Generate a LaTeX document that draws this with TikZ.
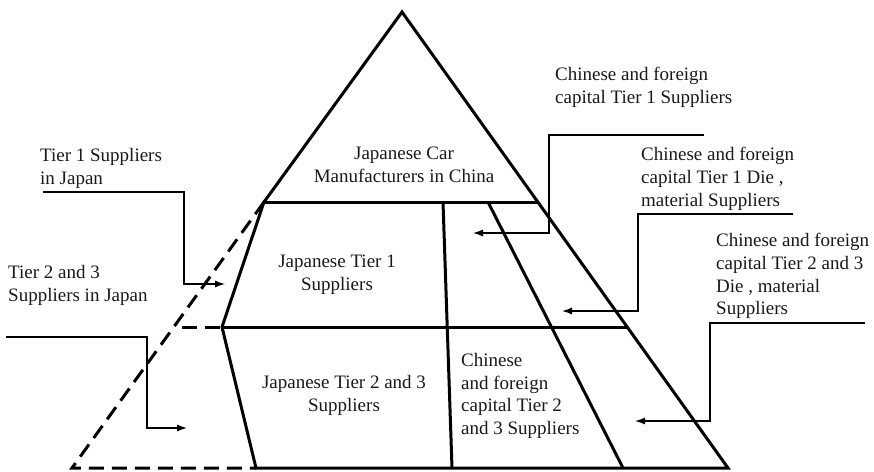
\documentclass[tikz,border=0pt]{standalone}
\usepackage{fontspec}
\setmainfont{Liberation Serif}
\usetikzlibrary{arrows.meta}
\begin{document}
\begin{tikzpicture}[x=1pt,y=-1pt,
  txt/.style={font={\fontsize{19}{22.8}\selectfont},inner sep=0pt,text=black!90},
  thickline/.style={line width=3pt,line join=miter},
  dashline/.style={line width=3pt,dash pattern=on 15pt off 8pt},
  arr/.style={line width=1.2pt,-{Latex[length=10pt,width=7pt]}}]
\useasboundingbox (0,0) rectangle (874,471);
% pyramid points
\coordinate (A) at (402,12);
\coordinate (TL) at (264,202);
\coordinate (TR) at (538,202);
\coordinate (ML) at (222,327);
\coordinate (MR) at (627,327);
\coordinate (BL) at (256,468);
\coordinate (BR) at (728,468);
\coordinate (DL) at (72,468);
\coordinate (DM) at (182,327);
\coordinate (V1t) at (443,202);
\coordinate (V1b) at (452,468);
\coordinate (D2t) at (488,202);
\coordinate (D2b) at (623,468);
% solid structure
\draw[thickline] (A) -- (BR) -- (BL) -- (ML) -- (TL) -- cycle;
\draw[thickline] (TL) -- (TR);
\draw[thickline] (ML) -- (MR);
\draw[thickline] (V1t) -- (V1b);
\draw[thickline] (D2t) -- (D2b);
% dashed extension
\draw[dashline] (TL) -- (DL) -- (BL);
\draw[dashline] (DM) -- (ML);
% text inside
\node[txt,align=center,anchor=north] (car) at (404,147) {Japanese Car\\Manufacturers in China};
\node[txt,align=center,anchor=north] (jt1) at (337,255) {Japanese Tier 1\\Suppliers};
\node[txt,align=center,anchor=north] (jt23) at (344,375) {Japanese Tier 2 and 3\\Suppliers};
\node[txt,align=left,anchor=north west] (ct23) at (461,353) {Chinese\\and foreign\\capital Tier 2\\and 3 Suppliers};
% outside labels
\node[txt,align=left,anchor=north west] (lct1) at (555,67) {Chinese and foreign\\capital Tier 1 Suppliers};
\node[txt,align=left,anchor=north west] (lcd1) at (641,147) {Chinese and foreign\\capital Tier 1 Die ,\\material Suppliers};
\node[txt,align=left,anchor=north west] (lcd23) at (716,233) {Chinese and foreign\\capital Tier 2 and 3\\Die , material\\Suppliers};
\node[txt,align=left,anchor=north west] (ljt1) at (40,148) {Tier 1 Suppliers\\in Japan};
\node[txt,align=left,anchor=north west] (ljt23) at (8,265) {Tier 2 and 3\\Suppliers in Japan};
% arrow coordinates
\coordinate (a1s) at (43,192);  \coordinate (a1k) at (184,284); \coordinate (a1e) at (225,284);
\coordinate (a2s) at (6,337);   \coordinate (a2k) at (147,428); \coordinate (a2e) at (187,428);
\coordinate (a3s) at (704,135); \coordinate (a3k) at (549,233); \coordinate (a3e) at (473,233);
\coordinate (a4s) at (793,214); \coordinate (a4k) at (638,311); \coordinate (a4e) at (562,311);
\coordinate (a5s) at (865,323); \coordinate (a5k) at (710,421); \coordinate (a5e) at (635,421);
\draw[arr] (a1s) -| (a1k) -- (a1e);
\draw[arr] (a2s) -| (a2k) -- (a2e);
\draw[arr] (a3s) -| (a3k) -- (a3e);
\draw[arr] (a4s) -| (a4k) -- (a4e);
\draw[arr] (a5s) -| (a5k) -- (a5e);
\end{tikzpicture}
\end{document}
